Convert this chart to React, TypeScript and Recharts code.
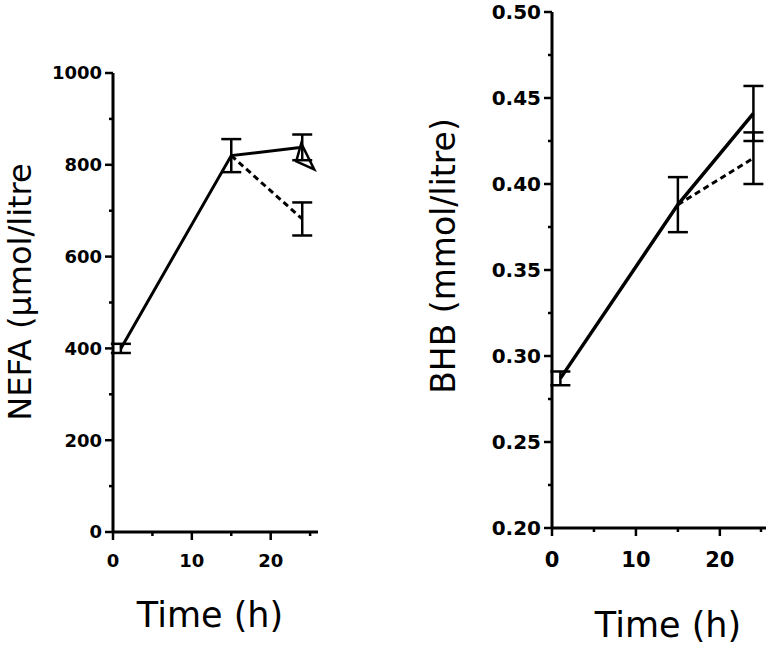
import { LineChart, Line, XAxis, YAxis, ErrorBar } from "recharts"

// time points (h)
const timesA = [1, 15, 24]
const timesB = [15, 24]

// NEFA (umol/litre)
const nefaSolid = [400, 820, 838]
const nefaSolidErr = [10, 36, 28]
const nefaDashed = [820, 682]
const nefaDashedErr = [0, 36]

// BHB (mmol/litre)
const bhbSolid = [0.287, 0.388, 0.441]
const bhbSolidErr = [0.004, 0.016, 0.016]
const bhbDashed = [0.388, 0.415]
const bhbDashedErr = [0, 0.015]

const timeTicks = [0, 5, 10, 15, 20, 25]
const nefaTicks = [0, 100, 200, 300, 400, 500, 600, 700, 800, 900, 1000]
const bhbTicks = [0.2, 0.225, 0.25, 0.275, 0.3, 0.325, 0.35, 0.375, 0.4, 0.425, 0.45, 0.475, 0.5]

const toRows = (xs: number[], ys: number[], errs: number[]) =>
  xs.map((t, i) => ({ t, v: ys[i], err: errs[i] }))

const tickFont = "'DejaVu Sans', sans-serif"
const titleFont = "'DejaVu Sans', Verdana, sans-serif"

function makeYTick(isMajor: (v: number) => boolean, fmt: (v: number) => string, fontSize: number) {
  return (props: any) => {
    const { x, y, payload } = props
    const major = isMajor(payload.value)
    return (
      <g>
        <line x1={x} x2={x - (major ? 8 : 4)} y1={y} y2={y} stroke="#000" strokeWidth={2.5} />
        {major && (
          <text x={x - 11} y={y} dy="0.36em" textAnchor="end" fontFamily={tickFont} fontWeight="bold" fontSize={fontSize} fill="#000">
            {fmt(payload.value)}
          </text>
        )}
      </g>
    )
  }
}

function makeXTick(fontSize: number, labelY: number) {
  return (props: any) => {
    const { x, y, payload } = props
    const major = payload.value % 10 === 0
    return (
      <g>
        <line x1={x} x2={x} y1={y} y2={y + (major ? 8 : 4)} stroke="#000" strokeWidth={2.5} />
        {major && (
          <text x={x} y={y + labelY} dy="0.36em" textAnchor="middle" fontFamily={tickFont} fontWeight="bold" fontSize={fontSize} fill="#000">
            {payload.value}
          </text>
        )}
      </g>
    )
  }
}

const triangleDot = (props: any) => {
  const { cx, cy, index } = props
  if (index !== 2) return <g key={index} />
  return (
    <path
      key={index}
      d={`M${cx - 1},${cy - 4} L${cx + 12},${cy + 22} L${cx - 6},${cy + 14} Z`}
      fill="none"
      stroke="#000"
      strokeWidth={2.5}
    />
  )
}

export default function App() {
  const nefaS = toRows(timesA, nefaSolid, nefaSolidErr)
  const nefaD = toRows(timesB, nefaDashed, nefaDashedErr)
  const bhbS = toRows(timesA, bhbSolid, bhbSolidErr)
  const bhbD = toRows(timesB, bhbDashed, bhbDashedErr)

  return (
    <div style={{ position: "absolute", left: 0, top: 0, width: 769, height: 647, background: "#fff" }}>
      <div style={{ position: "absolute", left: 0, top: 0 }}>
        <LineChart width={330} height={647} margin={{ top: 73, right: 12, bottom: 85, left: 53 }}>
          <XAxis
            type="number"
            dataKey="t"
            domain={[0, 26]}
            ticks={timeTicks}
            allowDataOverflow
            tickSize={0}
            tickMargin={0}
            height={30}
            axisLine={{ stroke: "#000", strokeWidth: 3 }}
            tickLine={false}
            tick={makeXTick(18, 29)}
            label={{
              content: ({ viewBox }: any) => (
                <text x={viewBox.x + 97} y={viewBox.y + 95} textAnchor="middle" fontFamily={titleFont} fontSize={35} fill="#000">
                  Time (h)
                </text>
              ),
            }}
          />
          <YAxis
            type="number"
            domain={[0, 1000]}
            ticks={nefaTicks}
            width={60}
            tickSize={0}
            tickMargin={0}
            axisLine={{ stroke: "#000", strokeWidth: 3 }}
            tickLine={false}
            tick={makeYTick((v) => v % 200 === 0, (v) => String(v), 18)}
            label={{
              content: ({ viewBox }: any) => (
                <text
                  x={viewBox.x - 22}
                  y={292}
                  transform={`rotate(-90 ${viewBox.x - 22} 292)`}
                  textAnchor="middle"
                  fontFamily={titleFont}
                  fontSize={32}
                  fill="#000"
                >
                  NEFA (μmol/litre
                </text>
              ),
            }}
          />
          <Line data={nefaS} dataKey="v" stroke="#000" strokeWidth={3} dot={triangleDot} isAnimationActive={false}>
            <ErrorBar dataKey="err" direction="y" width={10} stroke="#000" strokeWidth={2.5} />
          </Line>
          <Line data={nefaD} dataKey="v" stroke="#000" strokeWidth={3} strokeDasharray="6 4" dot={false} isAnimationActive={false}>
            <ErrorBar dataKey="err" direction="y" width={10} stroke="#000" strokeWidth={2.5} />
          </Line>
        </LineChart>
      </div>

      <div style={{ position: "absolute", left: 400, top: 0 }}>
        <LineChart width={369} height={647} margin={{ top: 12, right: 3, bottom: 89, left: 92 }}>
          <XAxis
            type="number"
            dataKey="t"
            domain={[0, 25.5]}
            ticks={timeTicks}
            allowDataOverflow
            tickSize={0}
            tickMargin={0}
            height={30}
            axisLine={{ stroke: "#000", strokeWidth: 3 }}
            tickLine={false}
            tick={makeXTick(21, 31)}
            label={{
              content: ({ viewBox }: any) => (
                <text x={viewBox.x + 116} y={viewBox.y + 109} textAnchor="middle" fontFamily={titleFont} fontSize={35} fill="#000">
                  Time (h)
                </text>
              ),
            }}
          />
          <YAxis
            type="number"
            domain={[0.2, 0.5]}
            ticks={bhbTicks}
            width={60}
            tickSize={0}
            tickMargin={0}
            axisLine={{ stroke: "#000", strokeWidth: 3 }}
            tickLine={false}
            tick={makeYTick((v) => Math.round(v * 1000) % 50 === 0, (v) => v.toFixed(2), 20)}
            label={{
              content: ({ viewBox }: any) => (
                <text
                  x={viewBox.x - 37}
                  y={256}
                  transform={`rotate(-90 ${viewBox.x - 37} 256)`}
                  textAnchor="middle"
                  fontFamily={titleFont}
                  fontSize={33}
                  fill="#000"
                >
                  BHB (mmol/litre)
                </text>
              ),
            }}
          />
          <Line data={bhbS} dataKey="v" stroke="#000" strokeWidth={3.5} dot={false} isAnimationActive={false}>
            <ErrorBar dataKey="err" direction="y" width={10} stroke="#000" strokeWidth={2.5} />
          </Line>
          <Line data={bhbD} dataKey="v" stroke="#000" strokeWidth={3} strokeDasharray="6 4" dot={false} isAnimationActive={false}>
            <ErrorBar dataKey="err" direction="y" width={10} stroke="#000" strokeWidth={2.5} />
          </Line>
        </LineChart>
      </div>
    </div>
  )
}
